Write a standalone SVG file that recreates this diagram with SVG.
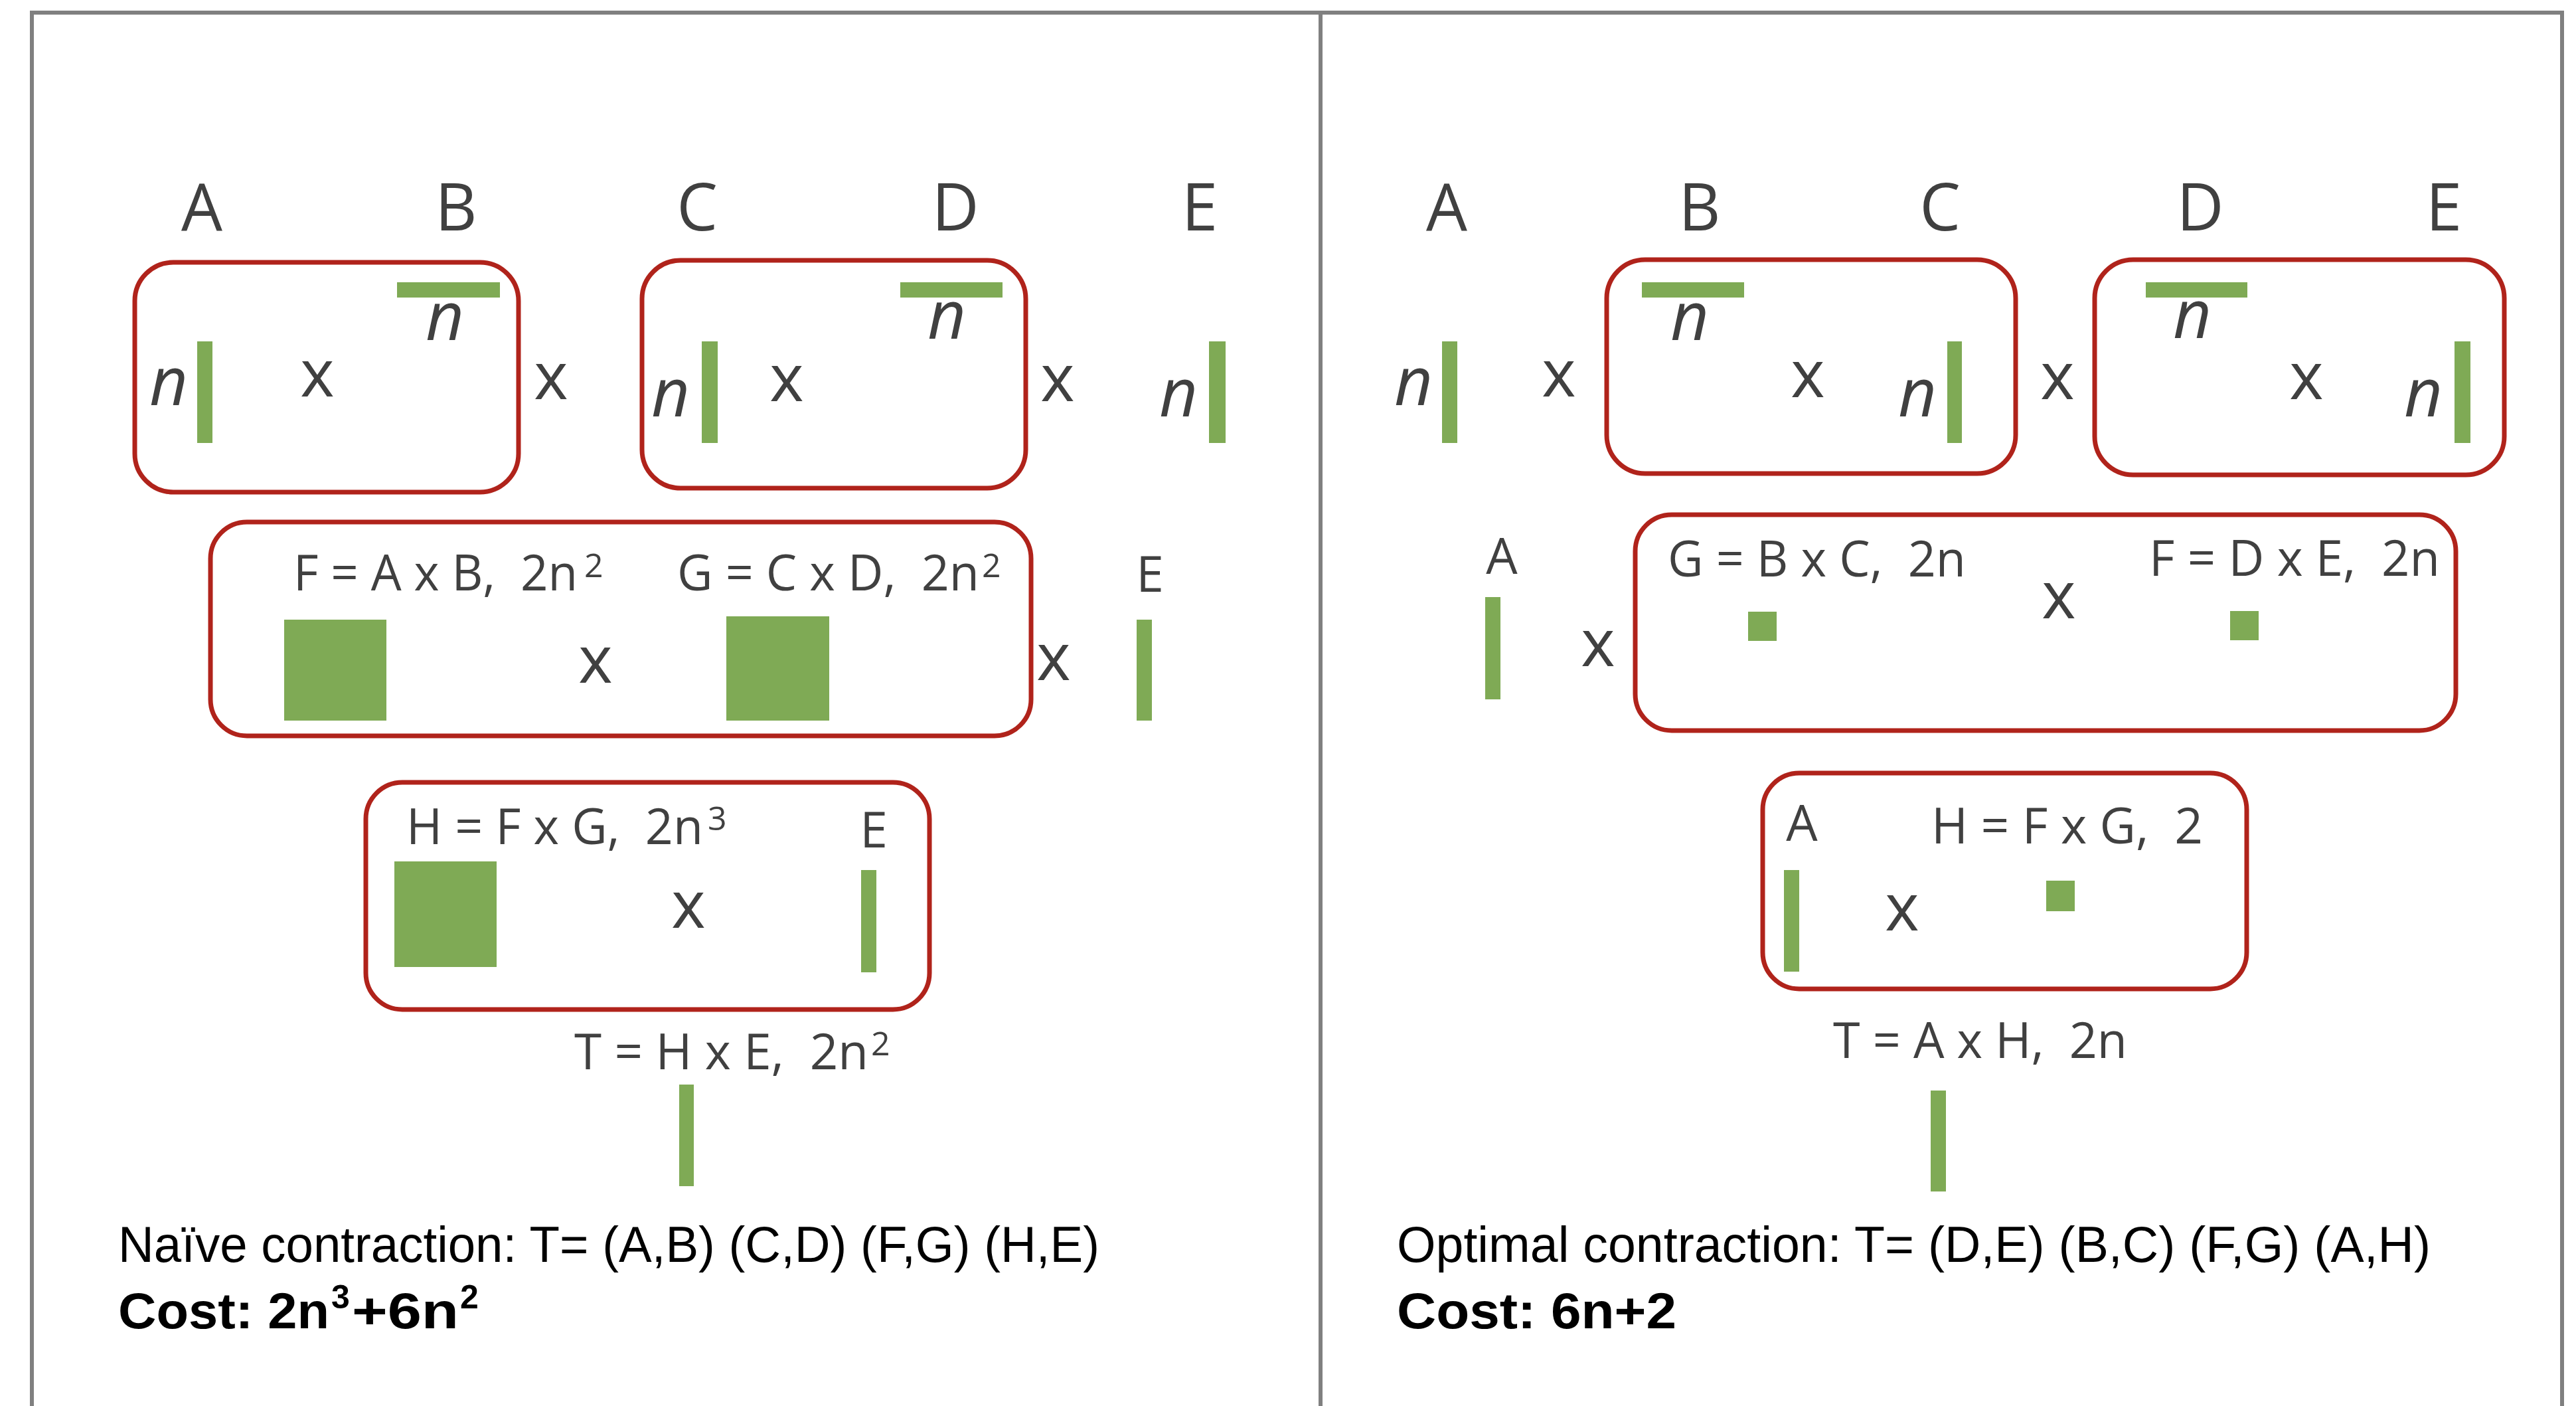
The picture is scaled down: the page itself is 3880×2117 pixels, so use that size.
<svg xmlns="http://www.w3.org/2000/svg" width="3880" height="2117" viewBox="0 0 3880 2117">
<style>
.frame{fill:none;stroke:#808080;stroke-width:6}
.box{fill:none;stroke:#B0231B;stroke-width:7}
.g{fill:#7FAA55}
.lbl{font-family:"Open Sans","Liberation Sans",sans-serif;font-size:98px;fill:#404040;text-anchor:middle}
.op{font-family:"Open Sans","Liberation Sans",sans-serif;font-size:98px;fill:#404040;text-anchor:middle}
.n{font-family:"Open Sans","Liberation Sans",sans-serif;font-style:italic;font-size:100px;fill:#404040;text-anchor:middle}
.sm{font-family:"Open Sans","Liberation Sans",sans-serif;font-size:75px;fill:#404040;white-space:pre}
.smc{font-family:"Open Sans","Liberation Sans",sans-serif;font-size:75px;fill:#404040;text-anchor:middle}
.sup{font-size:50px}
.bt{font-family:"Liberation Sans","Open Sans",sans-serif;font-size:76px;fill:#000;white-space:pre}
.bb{font-weight:bold}
.bsup{font-size:50px}
</style>
<rect width="3880" height="2117" fill="#fff"/>
<g id="frame">
<path class="frame" d="M48,2125 V19 H3859 V2125"/>
<path class="frame" d="M1989,19 V2125"/>
</g>

<!-- LEFT PANEL -->
<g id="left-labels">
<text class="lbl" x="304" y="347">A</text>
<text class="lbl" x="687" y="347">B</text>
<text class="lbl" x="1050" y="347">C</text>
<text class="lbl" x="1439" y="347">D</text>
<text class="lbl" x="1807" y="347">E</text>
</g>
<g id="L-AB">
<rect class="box" x="203" y="395" width="578" height="346" rx="58"/>
<rect class="g" x="297" y="514" width="23" height="153"/>
<text class="n" x="254" y="610">n</text>
<rect class="g" x="598" y="425" width="155" height="23"/>
<text class="n" x="670" y="512">n</text>
<text class="op" x="478" y="597">x</text>
</g>
<text class="op" x="830" y="601">x</text>
<g id="L-CD">
<rect class="box" x="967" y="392" width="578" height="343" rx="58"/>
<rect class="g" x="1057" y="514" width="24" height="153"/>
<text class="n" x="1010" y="627">n</text>
<rect class="g" x="1356" y="425" width="154" height="23"/>
<text class="n" x="1426" y="510">n</text>
<text class="op" x="1185" y="604">x</text>
</g>
<text class="op" x="1593" y="604">x</text>
<g id="L-E">
<rect class="g" x="1821" y="514" width="25" height="153"/>
<text class="n" x="1775" y="627">n</text>
</g>

<g id="L-FG">
<rect class="box" x="317" y="786" width="1236" height="322" rx="55"/>
<text class="sm" x="442" y="889"><tspan textLength="428" lengthAdjust="spacingAndGlyphs">F = A x B,  2n</tspan><tspan class="sup" x="880" y="869">2</tspan></text>
<text class="sm" x="1020" y="889"><tspan textLength="455" lengthAdjust="spacingAndGlyphs">G = C x D,  2n</tspan><tspan class="sup" x="1479" y="869">2</tspan></text>
<rect class="g" x="428" y="933" width="154" height="152"/>
<rect class="g" x="1094" y="928" width="155" height="157"/>
<text class="op" x="897" y="1028">x</text>
</g>
<text class="op" x="1587" y="1024">x</text>
<g id="L-E2">
<text class="smc" x="1732" y="891">E</text>
<rect class="g" x="1712" y="933" width="23" height="152"/>
</g>

<g id="L-HE">
<rect class="box" x="551" y="1178" width="849" height="342" rx="55"/>
<text class="sm" x="612" y="1271"><tspan textLength="447" lengthAdjust="spacingAndGlyphs">H = F x G,  2n</tspan><tspan class="sup" x="1066" y="1250">3</tspan></text>
<text class="smc" x="1316" y="1276">E</text>
<rect class="g" x="594" y="1297" width="154" height="159"/>
<rect class="g" x="1297" y="1310" width="23" height="154"/>
<text class="op" x="1037" y="1397">x</text>
</g>
<g id="L-T">
<text class="sm" x="865" y="1610"><tspan textLength="443" lengthAdjust="spacingAndGlyphs">T = H x E,  2n</tspan><tspan class="sup" x="1312" y="1589">2</tspan></text>
<rect class="g" x="1023" y="1633" width="22" height="153"/>
</g>
<g id="L-summary">
<text class="bt" x="178" y="1900" textLength="1478" lengthAdjust="spacingAndGlyphs">Naïve contraction: T= (A,B) (C,D) (F,G) (H,E)</text>
<text class="bt bb" x="178" y="2000"><tspan textLength="318" lengthAdjust="spacingAndGlyphs">Cost: 2n</tspan><tspan class="bsup" x="499" y="1970">3</tspan><tspan x="530" y="2000" textLength="161" lengthAdjust="spacingAndGlyphs">+6n</tspan><tspan class="bsup" x="693" y="1970">2</tspan></text>
</g>

<!-- RIGHT PANEL -->
<g id="right-labels">
<text class="lbl" x="2179" y="347">A</text>
<text class="lbl" x="2560" y="347">B</text>
<text class="lbl" x="2922" y="347">C</text>
<text class="lbl" x="3314" y="347">D</text>
<text class="lbl" x="3681" y="347">E</text>
</g>
<g id="R-A">
<rect class="g" x="2172" y="514" width="23" height="153"/>
<text class="n" x="2129" y="610">n</text>
</g>
<text class="op" x="2348" y="597">x</text>
<g id="R-BC">
<rect class="box" x="2420" y="391" width="616" height="322" rx="58"/>
<rect class="g" x="2473" y="425" width="154" height="23"/>
<text class="n" x="2545" y="512">n</text>
<rect class="g" x="2933" y="514" width="22" height="153"/>
<text class="n" x="2888" y="627">n</text>
<text class="op" x="2723" y="598">x</text>
</g>
<text class="op" x="3099" y="601">x</text>
<g id="R-DE">
<rect class="box" x="3155" y="391" width="617" height="324" rx="58"/>
<rect class="g" x="3232" y="425" width="153" height="23"/>
<text class="n" x="3302" y="509">n</text>
<rect class="g" x="3697" y="514" width="24" height="153"/>
<text class="n" x="3650" y="627">n</text>
<text class="op" x="3474" y="601">x</text>
</g>

<g id="R-A2">
<text class="smc" x="2262" y="864">A</text>
<rect class="g" x="2237" y="899" width="23" height="154"/>
</g>
<text class="op" x="2407" y="1003">x</text>
<g id="R-GF">
<rect class="box" x="2463" y="775" width="1236" height="325" rx="55"/>
<text class="sm" x="2512" y="868" textLength="449" lengthAdjust="spacingAndGlyphs">G = B x C,  2n</text>
<text class="sm" x="3237" y="867" textLength="438" lengthAdjust="spacingAndGlyphs">F = D x E,  2n</text>
<rect class="g" x="2633" y="921" width="43" height="44"/>
<rect class="g" x="3359" y="920" width="43" height="44"/>
<text class="op" x="3101" y="931">x</text>
</g>

<g id="R-AH">
<rect class="box" x="2655" y="1164" width="729" height="325" rx="55"/>
<text class="smc" x="2714" y="1266">A</text>
<text class="sm" x="2909" y="1270" textLength="409" lengthAdjust="spacingAndGlyphs">H = F x G,  2</text>
<rect class="g" x="2687" y="1310" width="23" height="153"/>
<rect class="g" x="3082" y="1326" width="43" height="46"/>
<text class="op" x="2865" y="1401">x</text>
</g>
<g id="R-T">
<text class="sm" x="2761" y="1593" textLength="443" lengthAdjust="spacingAndGlyphs">T = A x H,  2n</text>
<rect class="g" x="2908" y="1642" width="23" height="152"/>
</g>
<g id="R-summary">
<text class="bt" x="2104" y="1900" textLength="1557" lengthAdjust="spacingAndGlyphs">Optimal contraction: T= (D,E) (B,C) (F,G) (A,H)</text>
<text class="bt bb" x="2104" y="2000" textLength="421" lengthAdjust="spacingAndGlyphs">Cost: 6n+2</text>
</g>
<g id="connectors"></g>
</svg>
